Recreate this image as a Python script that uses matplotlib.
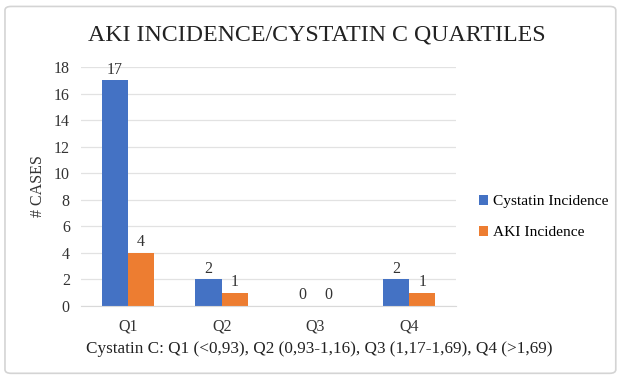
import matplotlib.pyplot as plt
import numpy as np
from matplotlib.patches import FancyBboxPatch

plt.rcParams['font.family'] = ['Liberation Serif', 'DejaVu Serif']

quartiles = ["Q1", "Q2", "Q3", "Q4"]
cystatin = [17, 2, 0, 2]
aki = [4, 1, 0, 1]
y_ticks = [0, 2, 4, 6, 8, 10, 12, 14, 16, 18]

fig = plt.figure(figsize=(6.22, 3.79), dpi=100)
fig.patch.set_facecolor("white")
border = FancyBboxPatch((0.008, 0.015), 0.982, 0.968, boxstyle="round,pad=0,rounding_size=0.01",
                        transform=fig.transFigure, facecolor="none", edgecolor="#d4d4d4",
                        lw=1.2, zorder=-1)
fig.patches.append(border)

ax = fig.add_axes([0.1302, 0.1926, 0.603, 0.6306])
ax.patch.set_alpha(0)
x = np.arange(len(quartiles))
w = 0.28
b1 = ax.bar(x - w / 2, cystatin, w, color="#4472C4", label="Cystatin Incidence")
b2 = ax.bar(x + w / 2, aki, w, color="#ED7D31", label="AKI Incidence")

for bars in (b1, b2):
    for bar in bars:
        h = bar.get_height()
        ax.text(bar.get_x() + bar.get_width() / 2, h + 0.2, f"{h:.0f}",
                ha="center", va="bottom", fontsize=11.5, color="#333333")

ax.set_ylim(0, 18)
ax.set_xlim(-0.5, 3.5)
ax.set_yticks(y_ticks)
ax.set_xticks(x)
ax.set_xticklabels(quartiles)
ax.tick_params(length=0, labelsize=11.5, colors="#333333")
ax.tick_params(axis="y", pad=8)
ax.tick_params(axis="x", pad=9)
ax.grid(axis="y", color="#e2e2e2", lw=0.9)
ax.set_axisbelow(True)
for s in ["top", "right", "left"]:
    ax.spines[s].set_visible(False)
ax.spines["bottom"].set_color("#d9d9d9")

ax.set_ylabel("# CASES", fontsize=11.5, color="#333333", labelpad=6)

fig.text(0.514, 0.079, "Cystatin C: Q1 (<0,93), Q2 (0,93-1,16), Q3 (1,17-1,69), Q4 (>1,69)",
         ha="center", va="center", fontsize=12.3, color="#222222")

fig.text(0.51, 0.908, "AKI INCIDENCE/CYSTATIN C QUARTILES", ha="center", va="center",
         fontsize=17.2, color="#222222")

fig.legend(handles=[b1, b2], loc="center left", bbox_to_anchor=(0.748, 0.427),
           frameon=False, fontsize=11.1, handlelength=0.6, handleheight=0.6,
           handletextpad=0.3, labelspacing=1.15)

fig.savefig("out.png", dpi=100)
